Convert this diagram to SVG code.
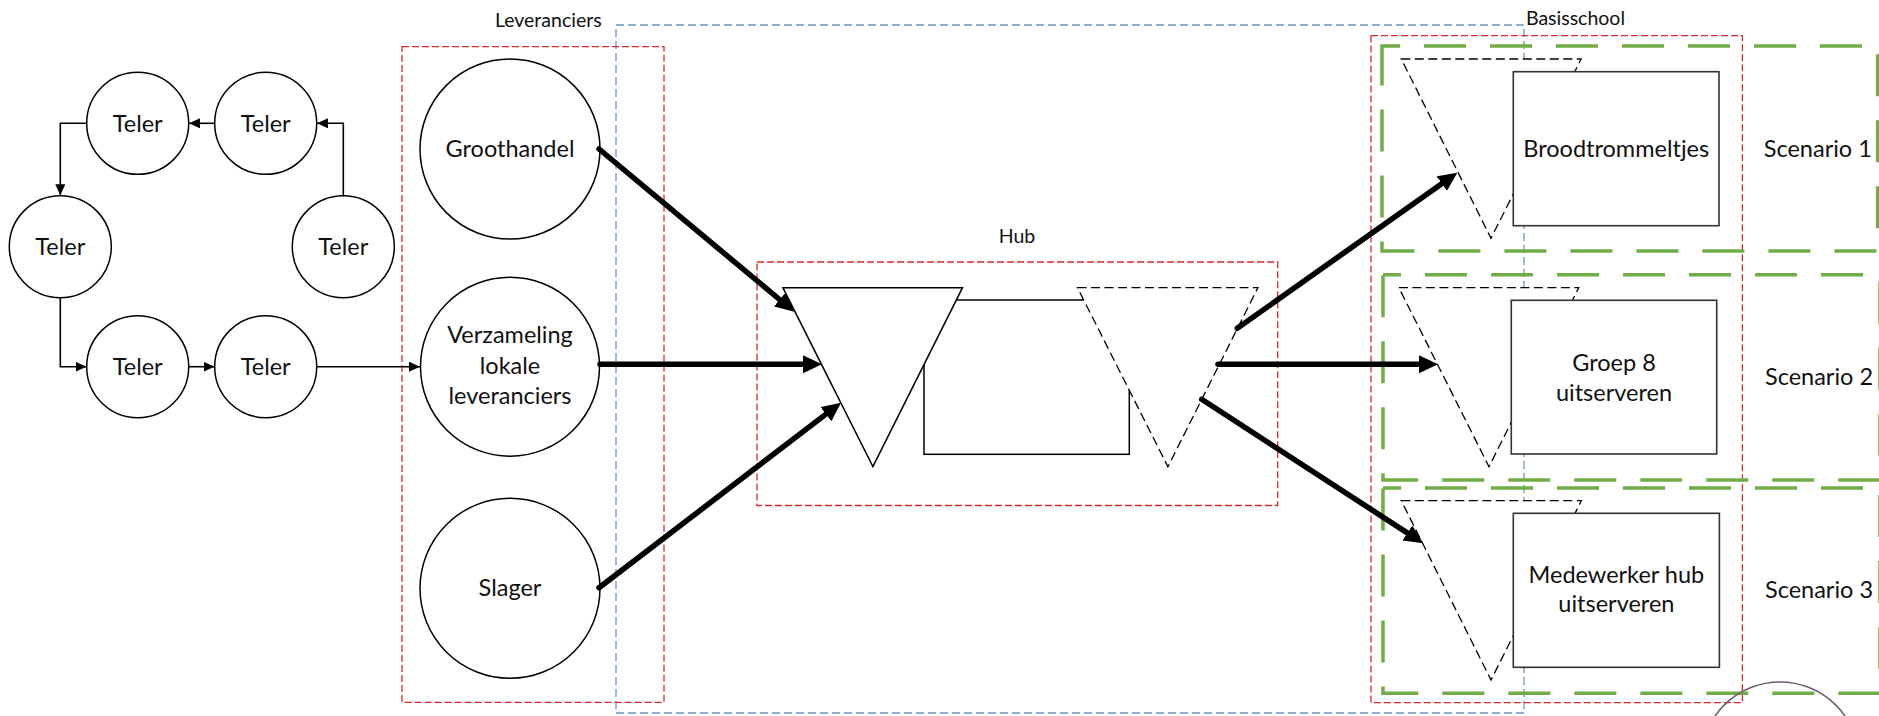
<svg xmlns="http://www.w3.org/2000/svg" width="1879" height="716" viewBox="0 0 1879 716">
<defs>
<style>
.t{font-family:Lato,"Liberation Sans",sans-serif;fill:#111;text-anchor:middle}
.big{font-size:23.5px}
.lbl{font-size:19.5px}
.node{fill:#fff;stroke:#000;stroke-width:1.5}
.box{fill:#fff;stroke:#333;stroke-width:1.6}
.red{fill:none;stroke:#d8282c;stroke-width:1.3;stroke-dasharray:7 3}
.blue{fill:none;stroke:#6b95c4;stroke-width:1.3;stroke-dasharray:8 4}
.green{fill:none;stroke:#70ad47;stroke-width:3.5;stroke-dasharray:42 24}
.dtri{fill:#fff;stroke:#000;stroke-width:1.3;stroke-dasharray:9 4.5}
.thin{fill:none;stroke:#000;stroke-width:1.6;marker-end:url(#ah)}
.thick{fill:none;stroke:#000;stroke-width:5.5;stroke-linecap:round;marker-end:url(#AH)}
</style>
<marker id="ah" markerUnits="userSpaceOnUse" markerWidth="12" markerHeight="11" refX="11" refY="5" orient="auto"><path d="M0,0 L11,5 L0,10 z" fill="#000"/></marker>
<marker id="AH" markerUnits="userSpaceOnUse" markerWidth="20" markerHeight="19" refX="3" refY="9" orient="auto"><path d="M0,0 L19,9 L0,18 z" fill="#000"/></marker>
</defs>
<rect width="1879" height="716" fill="#fff"/>

<g id="groups">
<rect id="blue-area" class="blue" x="616" y="25" width="908" height="688"/>
<rect id="leveranciers-box" class="red" x="402" y="46.7" width="262" height="655.6"/>
<rect id="hub-box" class="red" x="757" y="262" width="520.7" height="243.5"/>
<rect id="basisschool-box" class="red" x="1371" y="35.7" width="371.4" height="667"/>
<rect id="scenario1-box" class="green" x="1382" y="46" width="495.7" height="205" stroke-dashoffset="24"/>
<rect id="scenario2-box" class="green" x="1383" y="274.7" width="497" height="205.3" stroke-dashoffset="24"/>
<rect id="scenario3-box" class="green" x="1383" y="488" width="497" height="205.3" stroke-dashoffset="24"/>
<text class="t lbl" x="548.3" y="26.7">Leveranciers</text>
<text class="t lbl" x="1017" y="242.7">Hub</text>
<text class="t lbl" x="1575.5" y="25">Basisschool</text>
</g>

<g id="teler1"><circle class="node" cx="137.7" cy="123.3" r="51"/><text class="t big" x="137.7" y="131.5">Teler</text></g>
<g id="teler2"><circle class="node" cx="265.7" cy="123.3" r="51"/><text class="t big" x="265.7" y="131.5">Teler</text></g>
<g id="teler3"><circle class="node" cx="60.3" cy="246.7" r="51"/><text class="t big" x="60.3" y="254.9">Teler</text></g>
<g id="teler4"><circle class="node" cx="343.3" cy="246.7" r="51"/><text class="t big" x="343.3" y="254.9">Teler</text></g>
<g id="teler5"><circle class="node" cx="137.7" cy="366.7" r="51"/><text class="t big" x="137.7" y="374.9">Teler</text></g>
<g id="teler6"><circle class="node" cx="265.7" cy="366.7" r="51"/><text class="t big" x="265.7" y="374.9">Teler</text></g>

<g id="groothandel"><circle class="node" cx="510" cy="149" r="90"/><text class="t big" x="510" y="157.3">Groothandel</text></g>
<g id="verzameling"><circle class="node" cx="510" cy="366.7" r="89.5"/><text class="t big" x="510" y="343.3">Verzameling</text><text class="t big" x="510" y="374.3">lokale</text><text class="t big" x="510" y="404.3">leveranciers</text></g>
<g id="slager"><circle class="node" cx="510" cy="588.3" r="90"/><text class="t big" x="510" y="596.3">Slager</text></g>

<g id="hub">
<rect class="node" x="924" y="300" width="205.3" height="154.3"/>
<polygon class="node" points="782.9,287.7 962.5,287.7 872.9,466.7"/>
<polygon class="dtri" stroke-dasharray="12 6" points="1077.5,287.7 1257.9,287.7 1167.9,466.7"/>
</g>

<g id="scenario1">
<polygon class="dtri" points="1401.3,59 1581.1,59 1491,238.3"/>
<rect class="box" x="1513.3" y="71.7" width="205.7" height="154"/>
<text class="t big" x="1616.2" y="156.7">Broodtrommeltjes</text>
<text class="t big" x="1817.8" y="156.7">Scenario 1</text>
</g>
<g id="scenario2">
<polygon class="dtri" points="1398.9,287.7 1578.7,287.7 1489,466.7"/>
<rect class="box" x="1511.3" y="300.3" width="205.4" height="153.7"/>
<text class="t big" x="1614" y="371">Groep 8</text>
<text class="t big" x="1614" y="401">uitserveren</text>
<text class="t big" x="1819" y="385">Scenario 2</text>
</g>
<g id="scenario3">
<polygon class="dtri" points="1401.3,500.7 1581.4,500.7 1491,680"/>
<rect class="box" x="1513.3" y="513.3" width="206.1" height="154"/>
<text class="t big" x="1616.4" y="582.7">Medewerker hub</text>
<text class="t big" x="1616.4" y="612.3">uitserveren</text>
<text class="t big" x="1819" y="597.7">Scenario 3</text>
</g>

<circle id="partial-circle" cx="1780" cy="761" r="79" fill="none" stroke="#6e5a6e" stroke-width="1.5"/>

<g id="connectors">
<path class="thin" d="M343.3,195.7 V123.3 H317"/>
<path class="thin" d="M214.7,123.3 H189"/>
<path class="thin" d="M86.7,123.3 H60.3 V195.3"/>
<path class="thin" d="M60.3,297.7 V366.7 H86.5"/>
<path class="thin" d="M188.7,366.7 H214.5"/>
<path class="thin" d="M316.7,366.7 H420"/>
<path class="thick" d="M599,149 L782,301.5"/>
<path class="thick" d="M600,364.3 L806,364.3"/>
<path class="thick" d="M599,587.7 L828.3,412.4"/>
<path class="thick" d="M1237.3,328.3 L1444.2,181.9"/>
<path class="thick" d="M1218,364.3 L1422,364.3"/>
<path class="thick" d="M1201.7,399.3 L1409.9,534.6"/>
</g>
</svg>
